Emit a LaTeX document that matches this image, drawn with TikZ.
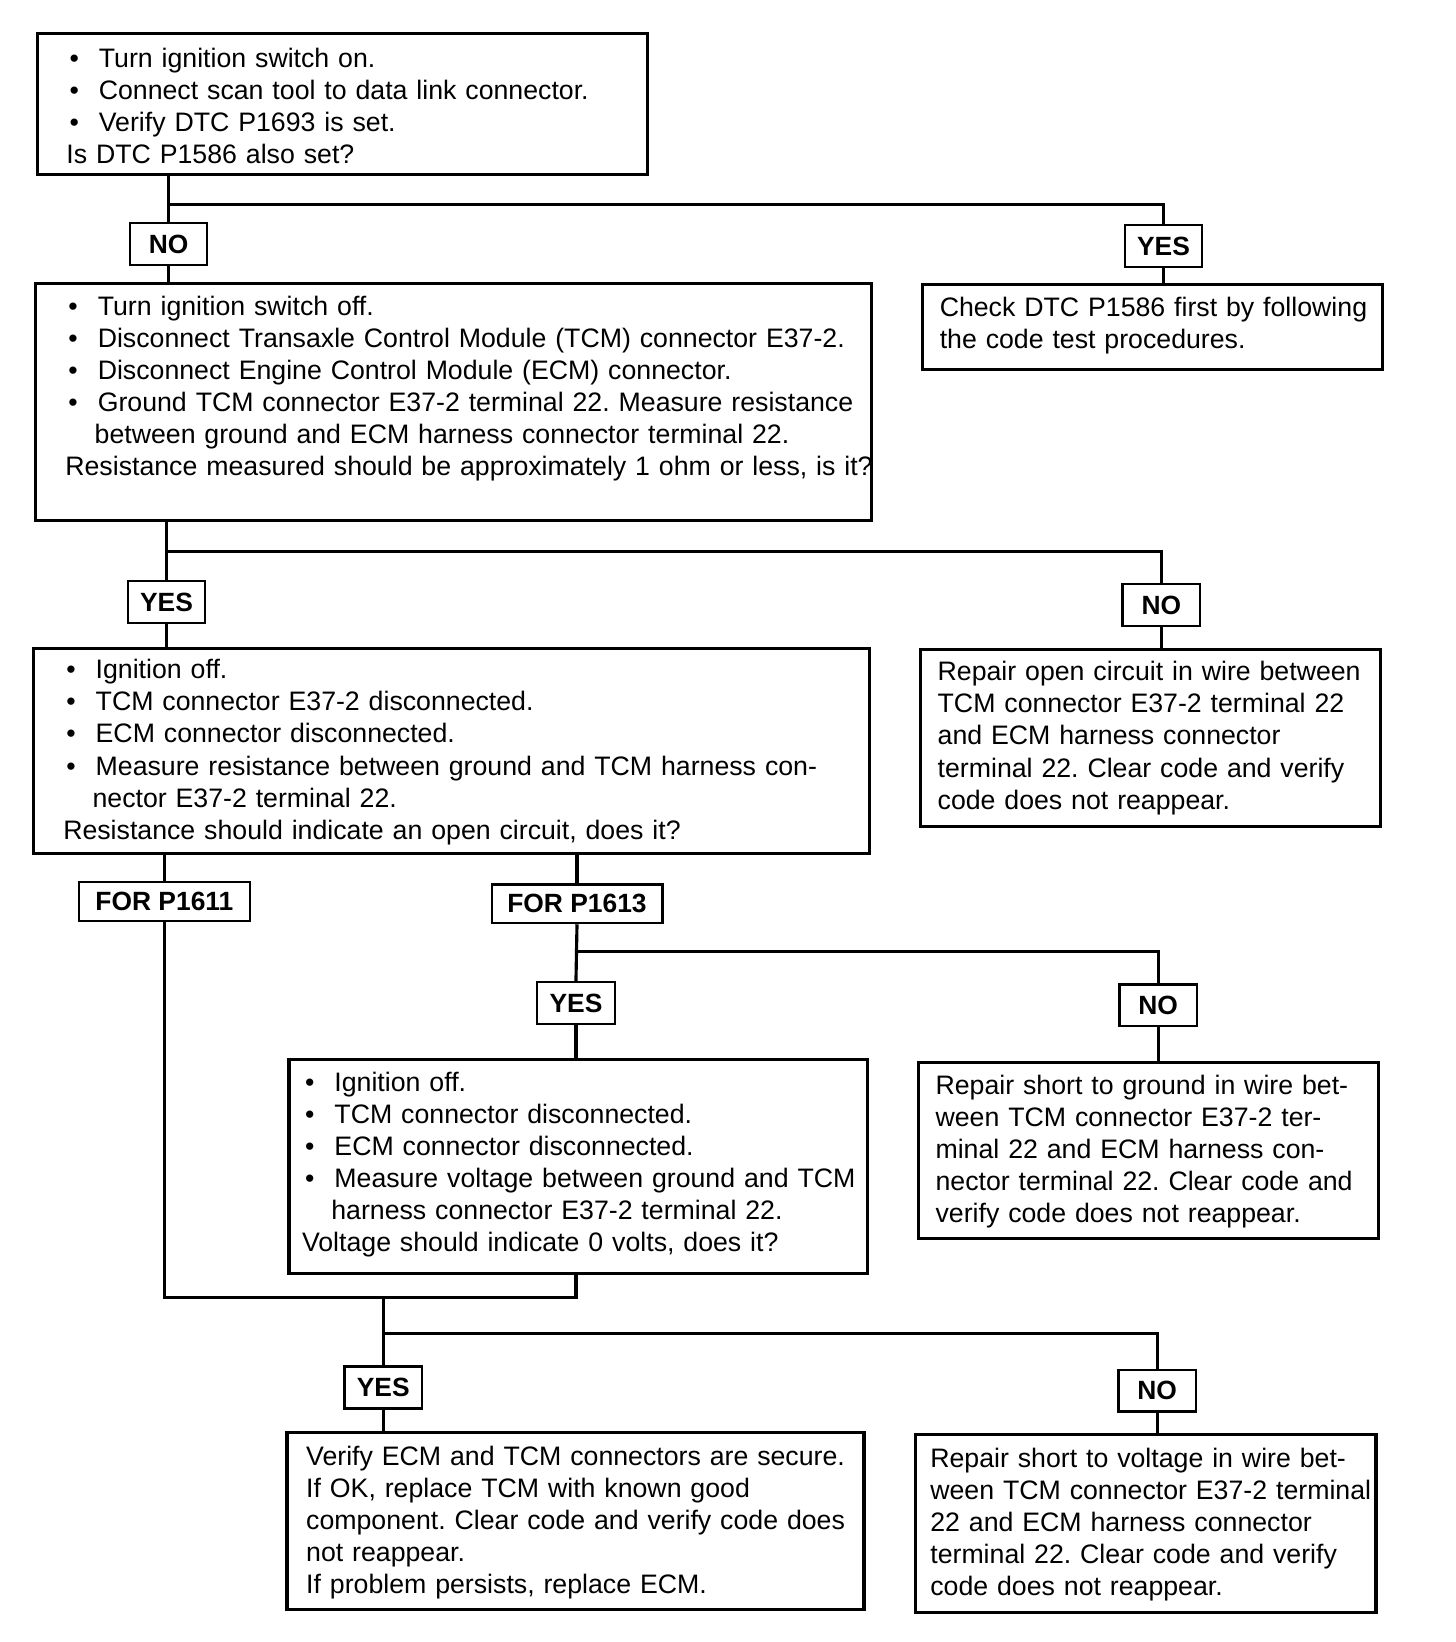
\documentclass[tikz,border=0pt]{standalone}
\usepackage{fontspec}
\setmainfont{Liberation Sans}
\usetikzlibrary{calc,fit}
\frenchspacing
\newcommand{\bu}{\makebox[15.5pt][l]{\hspace{1.5pt}\textbullet}}
\newcommand{\cn}{\hspace*{14pt}}
\begin{document}
\begin{tikzpicture}[x=0.5pt,y=-0.5pt,
  box/.style={draw, line width=1.5pt, inner sep=0pt},
  lbl/.style={draw, line width=1.1pt, inner sep=0pt, font=\fontsize{12.6pt}{14pt}\selectfont\bfseries},
  lyn/.style={lbl, minimum width=37pt, minimum height=20pt},
  lfor/.style={lbl, minimum width=81.5pt, minimum height=18.5pt},
  txt/.style={inner sep=0pt, anchor=base west, align=left, text width=420pt, font=\fontsize{12.75pt}{15.35pt}\selectfont},
  wire/.style={line width=1.5pt}]
\useasboundingbox (0,0) rectangle (1390,1568);
\fill[white] (0,0) rectangle (1390,1568);

% boxes
\node[box, fit={(36,32) (618,167)}] (b1) {};
\node[box, fit={(34,271) (832,497)}] (b2) {};
\node[box, fit={(881,272) (1320,353)}] (chk) {};
\node[box, fit={(32,619) (830,815)}] (b3) {};
\node[box, fit={(879,620) (1318,789)}] (rop) {};
\node[box, fit={(276,1012) (828,1216)}] (b4) {};
\node[box, fit={(877,1015) (1316,1183)}] (sg) {};
\node[box, fit={(274,1368) (825,1537)}] (b5) {};
\node[box, fit={(874,1370) (1314,1540)}] (b6) {};

% texts
\node[txt] (t1) at (63,64) {\bu Turn ignition switch on.\\
\bu Connect scan tool to data link connector.\\
\bu Verify DTC P1693 is set.\\
Is DTC P1586 also set?};
\node[txt] (t2) at (62,301) {\bu Turn ignition switch off.\\
\bu Disconnect Transaxle Control Module (TCM) connector E37-2.\\
\bu Disconnect Engine Control Module (ECM) connector.\\
\bu Ground TCM connector E37-2 terminal 22. Measure resistance\\
\cn between ground and ECM harness connector terminal 22.\\
Resistance measured should be approximately 1 ohm or less, is it?};
\node[txt] (tchk) at (897,302) {Check DTC P1586 first by following\\
the code test procedures.};
\node[txt] (t3) at (60,648) {\bu Ignition off.\\
\bu TCM connector E37-2 disconnected.\\
\bu ECM connector disconnected.\\
\bu Measure resistance between ground and TCM harness con-\\
\cn nector E37-2 terminal 22.\\
Resistance should indicate an open circuit, does it?};
\node[txt] (trop) at (895,650) {Repair open circuit in wire between\\
TCM connector E37-2 terminal 22\\
and ECM harness connector\\
terminal 22. Clear code and verify\\
code does not reappear.};
\node[txt] (t4) at (288,1042) {\bu Ignition off.\\
\bu TCM connector disconnected.\\
\bu ECM connector disconnected.\\
\bu Measure voltage between ground and TCM\\
\cn harness connector E37-2 terminal 22.\\
Voltage should indicate 0 volts, does it?};
\node[txt] (tsg) at (893,1045) {Repair short to ground in wire bet-\\
ween TCM connector E37-2 ter-\\
minal 22 and ECM harness con-\\
nector terminal 22. Clear code and\\
verify code does not reappear.};
\node[txt] (t5) at (292,1399) {Verify ECM and TCM connectors are secure.\\
If OK, replace TCM with known good\\
component. Clear code and verify code does\\
not reappear.\\
If problem persists, replace ECM.};
\node[txt] (t6) at (888,1401) {Repair short to voltage in wire bet-\\
ween TCM connector E37-2 terminal\\
22 and ECM harness connector\\
terminal 22. Clear code and verify\\
code does not reappear.};

% labels
\node[lyn] (no1) at (161,233) {NO};
\node[lyn] (yes1) at (1111,235) {YES};
\node[lyn] (yes2) at (159,575) {YES};
\node[lyn] (no2) at (1109,578) {NO};
\node[lfor] (f11) at (157,861) {FOR P1611};
\node[lfor] (f13) at (551,863) {FOR P1613};
\node[lyn] (yes3) at (550,958) {YES};
\node[lyn] (no3) at (1106,960) {NO};
\node[lyn] (yes4) at (366,1325) {YES};
\node[lyn] (no4) at (1105,1328) {NO};

% junction levels
\coordinate (j1) at (0,195);
\coordinate (j2) at (0,527);
\coordinate (j3) at (0,909);
\coordinate (j4) at (0,1239);
\coordinate (j5) at (0,1273);

% connectors
\draw[wire] (no1 |- b1.south) -- (no1.north);
\draw[wire] (no1 |- j1) -- (yes1 |- j1) -- (yes1.north);
\draw[wire] (no1.south) -- (no1 |- b2.north);
\draw[wire] (yes1.south) -- (yes1 |- chk.north);

\draw[wire] (yes2 |- b2.south) -- (yes2.north);
\draw[wire] (yes2 |- j2) -- (no2 |- j2) -- (no2.north);
\draw[wire] (yes2.south) -- (yes2 |- b3.north);
\draw[wire] (no2.south) -- (no2 |- rop.north);

\draw[wire] (f11 |- b3.south) -- (f11.north);
\draw[wire] (f13 |- b3.south) -- (f13.north);
\draw[wire] (f13.south) -- (yes3.north);
\draw[wire] (yes3 |- j3) -- (no3 |- j3) -- (no3.north);
\draw[wire] (yes3.south) -- (yes3 |- b4.north);
\draw[wire] (no3.south) -- (no3 |- sg.north);

\draw[wire] (f11.south) -- (f11 |- j4) -- (yes3 |- j4) -- (yes3 |- b4.south);
\draw[wire] (yes4 |- j4) -- (yes4.north);
\draw[wire] (yes4 |- j5) -- (no4 |- j5) -- (no4.north);
\draw[wire] (yes4.south) -- (yes4 |- b5.north);
\draw[wire] (no4.south) -- (no4 |- b6.north);
\end{tikzpicture}
\end{document}
